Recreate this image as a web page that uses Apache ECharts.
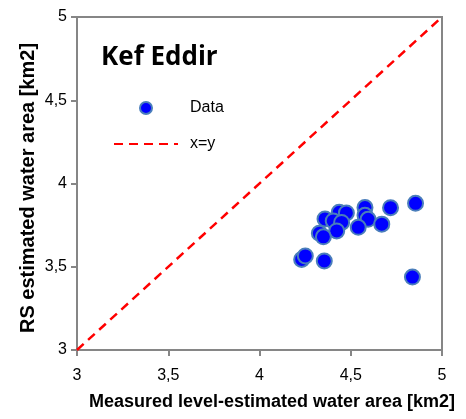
<!DOCTYPE html>
<html><head><meta charset="utf-8">
<script src="https://cdn.jsdelivr.net/npm/echarts@6/dist/echarts.min.js"></script>
<style>html,body{margin:0;padding:0;background:#fff}#c{width:466px;height:419px}</style>
</head><body><div id="c"></div>
<script>
const measured = [4.855,4.718,4.578,4.578,4.595,4.670,4.541,4.437,4.476,4.359,4.404,4.450,4.423,4.328,4.350,4.231,4.251,4.355,4.838];
const rsEstimated = [3.881,3.855,3.856,3.809,3.785,3.756,3.737,3.827,3.823,3.787,3.775,3.766,3.715,3.701,3.680,3.544,3.565,3.535,3.438];
const identityLine = [[3,3],[5,5]];
const axisMin = 3, axisMax = 5, axisStep = 0.5;
const title = 'Kef Eddir';
const xName = 'Measured level-estimated water area [km2]';
const yName = 'RS estimated water area [km2]';

const fmt = v => String(v).replace('.', ',');
const axisColor = '#868686';
const chart = echarts.init(document.getElementById('c'), null, {renderer:'canvas'});
chart.setOption({
  animation:false,
  title:{text:title,left:96,top:40,textStyle:{fontFamily:'Open Sans',fontWeight:'bold',fontSize:26,color:'#000'}},
  legend:{orient:'vertical',left:113,top:100,padding:0,itemWidth:64,itemHeight:12,itemGap:20,
    textStyle:{fontFamily:'Liberation Sans',fontSize:16,color:'#000',padding:[0,0,0,7]},
    data:[{name:'Data'},{name:'x=y',itemStyle:{opacity:0}}]},
  grid:{left:77,right:24,top:17,bottom:69,show:true,borderColor:axisColor,borderWidth:2},
  xAxis:{type:'value',min:axisMin,max:axisMax,interval:axisStep,
    name:xName,nameLocation:'middle',nameGap:43,nameMoveOverlap:false,
    nameTextStyle:{fontFamily:'Liberation Sans',fontWeight:'bold',fontSize:18,color:'#000',padding:[0,0,0,25]},
    axisLine:{show:true,lineStyle:{color:axisColor,width:2}},
    axisTick:{show:true,length:6,lineStyle:{color:axisColor,width:2}},
    axisLabel:{formatter:fmt,fontFamily:'Liberation Sans',fontSize:16,color:'#000',margin:18},
    splitLine:{show:false}},
  yAxis:{type:'value',min:axisMin,max:axisMax,interval:axisStep,
    name:yName,nameLocation:'middle',nameGap:39,nameMoveOverlap:false,
    nameTextStyle:{fontFamily:'Liberation Sans',fontWeight:'bold',fontSize:20,color:'#000',padding:[0,0,0,-9]},
    axisLine:{show:true,lineStyle:{color:axisColor,width:2}},
    axisTick:{show:true,length:6,lineStyle:{color:axisColor,width:2}},
    axisLabel:{formatter:fmt,fontFamily:'Liberation Sans',fontSize:16,color:'#000',margin:10},
    splitLine:{show:false}},
  series:[
    {name:'x=y',type:'line',data:identityLine,symbol:'none',z:1,
      lineStyle:{color:'#ff0000',width:2.5,type:[9,6]}},
    {name:'Data',type:'scatter',data:measured.map((x,i)=>[x,rsEstimated[i]]),symbol:'circle',symbolSize:15,z:2,
      itemStyle:{color:'#0000ff',borderColor:'#4a7ebb',borderWidth:2,opacity:1}}
  ]
});
</script></body></html>
